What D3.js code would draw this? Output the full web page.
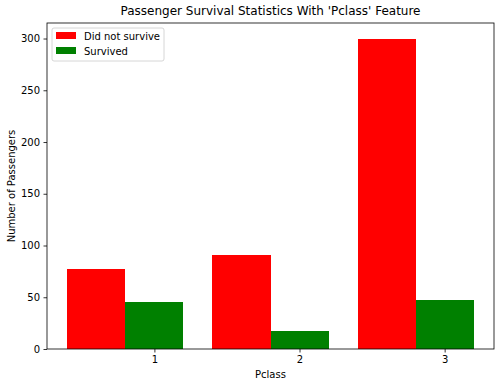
<!DOCTYPE html>
<html>
<head>
<meta charset="utf-8">
<script src="https://cdn.jsdelivr.net/npm/d3@7"></script>
<style>
  body { margin: 0; background: #fff; }
  text { font-family: "DejaVu Sans", sans-serif; fill: #000; }
</style>
</head>
<body>
<div id="chart"></div>
<script>
// data
const classes = [1, 2, 3];
const died = [77, 91, 300];
const survived = [45, 17, 47];
const yTicks = [0, 50, 100, 150, 200, 250, 300];

const W = 504, H = 387;
const margin = {top: 23, right: 10, bottom: 38, left: 47};
const width = W - margin.left - margin.right,
    height = H - margin.top - margin.bottom;

const svg = d3.select("#chart").append("svg")
    .attr("width", W).attr("height", H);
const g = svg.append("g")
    .attr("transform", `translate(${margin.left},${margin.top})`);

const barW = 0.4;
const x = d3.scaleLinear().domain([0.26, 3.34]).range([0, width]);
const y = d3.scaleLinear().domain([0, 315]).range([height, 0]);

// bars: red to the left of the tick, green centred on it
g.selectAll(".died").data(classes).join("rect")
    .attr("x", (d) => x(d - barW * 1.5))
    .attr("width", x(barW) - x(0))
    .attr("y", (d, i) => y(died[i]))
    .attr("height", (d, i) => y(0) - y(died[i]))
    .attr("fill", "#ff0000")
    .attr("shape-rendering", "crispEdges");
g.selectAll(".surv").data(classes).join("rect")
    .attr("x", (d) => x(d - barW / 2))
    .attr("width", x(barW) - x(0))
    .attr("y", (d, i) => y(survived[i]))
    .attr("height", (d, i) => y(0) - y(survived[i]))
    .attr("fill", "#008000")
    .attr("shape-rendering", "crispEdges");

// axes
const xAxis = g.append("g").attr("transform", `translate(0,${height})`)
    .call(d3.axisBottom(x).tickValues(classes).tickFormat(d3.format("d")).tickSize(3.5).tickPadding(3.5));
const yAxis = g.append("g")
    .call(d3.axisLeft(y).tickValues(yTicks).tickSize(3.5).tickPadding(3.5));
[xAxis, yAxis].forEach((a) => {
  a.select(".domain").remove();
  a.selectAll("text").style("font-size", "10px").attr("fill", "#000");
  a.selectAll("line").attr("stroke", "#000").attr("stroke-width", 0.8);
});

// frame
g.append("rect").attr("width", width).attr("height", height)
    .attr("fill", "none").attr("stroke", "#000").attr("stroke-width", 0.8);

// titles
g.append("text").attr("x", width / 2).attr("y", -8)
    .attr("text-anchor", "middle").style("font-size", "12px")
    .text("Passenger Survival Statistics With 'Pclass' Feature");
g.append("text").attr("x", width / 2).attr("y", height + 29)
    .attr("text-anchor", "middle").style("font-size", "10px")
    .text("Pclass");
g.append("text")
    .attr("transform", `translate(${-32},${height / 2}) rotate(-90)`)
    .attr("text-anchor", "middle").style("font-size", "10px")
    .text("Number of Passengers");

// legend
const legend = g.append("g").attr("transform", "translate(5,5)");
legend.append("rect").attr("width", 112).attr("height", 33)
    .attr("rx", 2).attr("fill", "#fff").attr("fill-opacity", 0.8)
    .attr("stroke", "#ccc").attr("stroke-width", 0.8);
const items = [["Did not survive", "#ff0000"], ["Survived", "#008000"]];
items.forEach(([label, col], i) => {
  legend.append("rect").attr("x", 4).attr("y", 4 + i * 15).attr("width", 20).attr("height", 7).attr("fill", col);
  legend.append("text").attr("x", 32).attr("y", 11.5 + i * 15)
      .style("font-size", "10px").text(label);
});
</script>
</body>
</html>
